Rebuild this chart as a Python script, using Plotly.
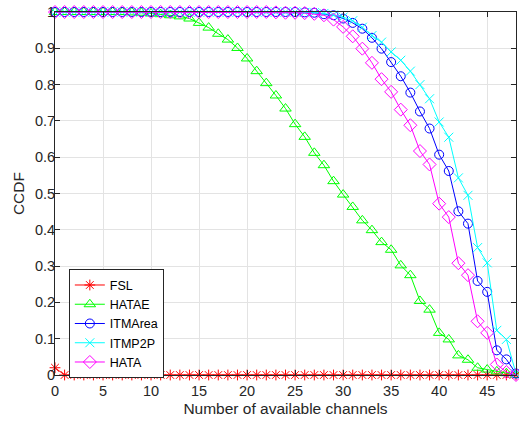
import plotly.graph_objects as go

channels = [0, 1, 2, 3, 4, 5, 6, 7, 8, 9, 10, 11, 12, 13, 14, 15, 16, 17, 18, 19, 20,
            21, 22, 23, 24, 25, 26, 27, 28, 29, 30, 31, 32, 33, 34, 35, 36, 37, 38, 39,
            40, 41, 42, 43, 44, 45, 46, 47, 48]

fsl = [0.02, 0, 0, 0, 0, 0, 0, 0, 0, 0, 0, 0, 0, 0, 0, 0, 0, 0, 0, 0, 0,
       0, 0, 0, 0, 0, 0, 0, 0, 0, 0, 0, 0, 0, 0, 0, 0, 0, 0, 0,
       0, 0, 0, 0, 0, 0, 0, 0, 0]

hatae = [1, 1, 1, 1, 1, 1, 1, 1, 0.999, 0.998, 0.996, 0.994, 0.991, 0.988, 0.982,
         0.970, 0.957, 0.940, 0.924, 0.901, 0.872, 0.837, 0.804, 0.770, 0.734,
         0.691, 0.656, 0.612, 0.578, 0.534, 0.497, 0.463, 0.426, 0.399, 0.366,
         0.345, 0.302, 0.275, 0.204, 0.180, 0.116, 0.098, 0.054, 0.042, 0.020,
         0.015, 0.010, 0.005, 0]

itm_area = [1, 1, 1, 1, 1, 1, 1, 1, 1, 1, 1, 1, 1, 1, 1, 1, 1, 1, 1, 1, 1,
            1, 1, 1, 1, 1, 0.999, 0.998, 0.994, 0.991, 0.982, 0.970, 0.954, 0.929,
            0.899, 0.862, 0.823, 0.778, 0.726, 0.679, 0.607, 0.562, 0.451, 0.417,
            0.259, 0.229, 0.068, 0.043, 0.004]

itm_p2p = [1, 1, 1, 1, 1, 1, 1, 1, 1, 1, 1, 1, 1, 1, 1, 1, 1, 1, 1, 1, 1,
           1, 1, 1, 1, 1, 0.999, 0.998, 0.996, 0.992, 0.986, 0.976, 0.958, 0.935,
           0.917, 0.890, 0.867, 0.837, 0.800, 0.761, 0.697, 0.655, 0.543, 0.495,
           0.351, 0.309, 0.123, 0.098, 0.004]

hata = [1, 1, 1, 1, 1, 1, 1, 1, 1, 1, 1, 1, 1, 1, 1, 1, 1, 1, 1, 1, 1,
        1, 1, 0.999, 0.998, 0.998, 0.997, 0.995, 0.991, 0.979, 0.959, 0.933,
        0.899, 0.860, 0.815, 0.780, 0.731, 0.688, 0.617, 0.580, 0.472, 0.435,
        0.308, 0.275, 0.148, 0.116, 0.029, 0.008, 0]

x_ticks = [0, 5, 10, 15, 20, 25, 30, 35, 40, 45]
y_ticks = [0, 0.1, 0.2, 0.3, 0.4, 0.5, 0.6, 0.7, 0.8, 0.9, 1]
y_tick_text = ["0", "0.1", "0.2", "0.3", "0.4", "0.5", "0.6", "0.7", "0.8", "0.9", "1"]

series = [
    ("FSL", fsl, "#FF0000", "asterisk-open", 9),
    ("HATAE", hatae, "#00FF00", "triangle-up-open", 10),
    ("ITMArea", itm_area, "#0000FF", "circle-open", 9),
    ("ITMP2P", itm_p2p, "#00FFFF", "x-thin-open", 9),
    ("HATA", hata, "#FF00FF", "diamond-open", 10),
]

FONT = "Liberation Sans, Arial, sans-serif"

fig = go.Figure()
for name, vals, color, symbol, size in series:
    fig.add_trace(go.Scatter(
        x=channels, y=vals, name=name, mode="lines+markers",
        line=dict(color=color, width=1),
        marker=dict(symbol=symbol, size=size, color=color,
                    line=dict(color=color, width=1)),
        cliponaxis=False,
    ))

axis_common = dict(
    showline=True, linecolor="#262626", linewidth=1, mirror="ticks",
    ticks="inside", ticklen=5, tickcolor="#262626",
    showgrid=True, gridcolor="#e3e3e3", gridwidth=1,
    zeroline=False,
    tickfont=dict(family=FONT, size=14.5, color="#262626"),
)

fig.update_layout(
    width=519, height=426,
    margin=dict(l=55, r=3, t=12, b=51),
    paper_bgcolor="white", plot_bgcolor="white",
    font=dict(family=FONT, color="#262626"),
    xaxis=dict(range=[0, 48], tickvals=x_ticks, ticklabelstandoff=3,
               title=dict(text="Number of available channels",
                          font=dict(size=15.5), standoff=4),
               **axis_common),
    yaxis=dict(range=[0, 1], tickvals=y_ticks, ticktext=y_tick_text,
               ticklabelstandoff=-4,
               **axis_common),
    legend=dict(x=0.03, y=0.291, xanchor="left", yanchor="top",
                bgcolor="white", bordercolor="#262626", borderwidth=1,
                font=dict(size=12.5, color="#000000"),
                tracegroupgap=0, itemsizing="trace"),
    showlegend=True,
    annotations=[dict(text="CCDF", textangle=-90, xref="paper", yref="paper",
                      x=-0.079, y=0.5, xanchor="center", yanchor="middle",
                      showarrow=False, font=dict(family=FONT, size=15.5, color="#262626"))],
)

fig.write_html("out.html")
